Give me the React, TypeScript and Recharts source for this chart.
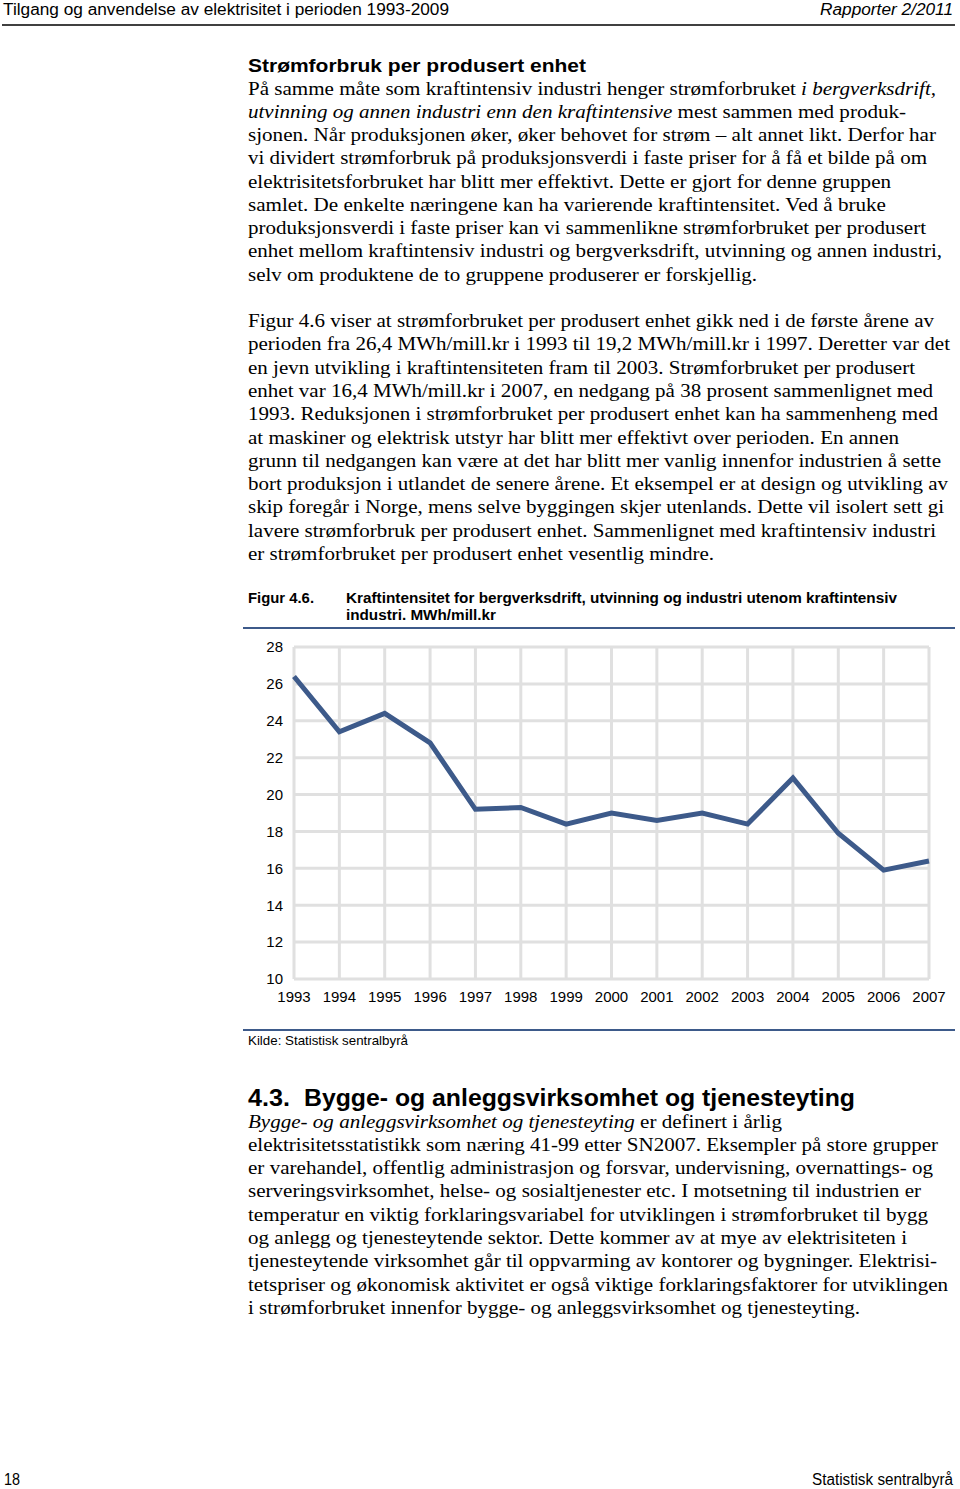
import React from 'react';
import { LineChart, Line, XAxis, YAxis, CartesianGrid } from 'recharts';

// ---- Chart data ----
const years = ['1993', '1994', '1995', '1996', '1997', '1998', '1999', '2000', '2001', '2002', '2003', '2004', '2005', '2006', '2007'];
const intensity = [26.4, 23.4, 24.4, 22.8, 19.2, 19.3, 18.4, 19.0, 18.6, 19.0, 18.4, 20.9, 17.9, 15.9, 16.4];
const yTicks = [10, 12, 14, 16, 18, 20, 22, 24, 26, 28];

const chartData = years.map((y, i) => ({ year: y, value: intensity[i] }));

// ---- Page text ----
type Seg = { t: string; i?: boolean };
type TL = { segs: Seg[]; end: number };

const para1: TL[] = [
  { segs: [{ t: 'På samme måte som kraftintensiv industri henger strømforbruket ' }, { t: 'i bergverksdrift,', i: true }], end: 936 },
  { segs: [{ t: 'utvinning og annen industri enn den kraftintensive', i: true }, { t: ' mest sammen med produk-' }], end: 906 },
  { segs: [{ t: 'sjonen. Når produksjonen øker, øker behovet for strøm – alt annet likt. Derfor har' }], end: 936 },
  { segs: [{ t: 'vi dividert strømforbruk på produksjonsverdi i faste priser for å få et bilde på om' }], end: 927 },
  { segs: [{ t: 'elektrisitetsforbruket har blitt mer effektivt. Dette er gjort for denne gruppen' }], end: 891 },
  { segs: [{ t: 'samlet. De enkelte næringene kan ha varierende kraftintensitet. Ved å bruke' }], end: 886 },
  { segs: [{ t: 'produksjonsverdi i faste priser kan vi sammenlikne strømforbruket per produsert' }], end: 926 },
  { segs: [{ t: 'enhet mellom kraftintensiv industri og bergverksdrift, utvinning og annen industri,' }], end: 942 },
  { segs: [{ t: 'selv om produktene de to gruppene produserer er forskjellig.' }], end: 757 },
];

const para2: TL[] = [
  { segs: [{ t: 'Figur 4.6 viser at strømforbruket per produsert enhet gikk ned i de første årene av' }], end: 934 },
  { segs: [{ t: 'perioden fra 26,4 MWh/mill.kr i 1993 til 19,2 MWh/mill.kr i 1997. Deretter var det' }], end: 950 },
  { segs: [{ t: 'en jevn utvikling i kraftintensiteten fram til 2003. Strømforbruket per produsert' }], end: 915 },
  { segs: [{ t: 'enhet var 16,4 MWh/mill.kr i 2007, en nedgang på 38 prosent sammenlignet med' }], end: 933 },
  { segs: [{ t: '1993. Reduksjonen i strømforbruket per produsert enhet kan ha sammenheng med' }], end: 938 },
  { segs: [{ t: 'at maskiner og elektrisk utstyr har blitt mer effektivt over perioden. En annen' }], end: 899 },
  { segs: [{ t: 'grunn til nedgangen kan være at det har blitt mer vanlig innenfor industrien å sette' }], end: 941 },
  { segs: [{ t: 'bort produksjon i utlandet de senere årene. Et eksempel er at design og utvikling av' }], end: 948 },
  { segs: [{ t: 'skip foregår i Norge, mens selve byggingen skjer utenlands. Dette vil isolert sett gi' }], end: 944 },
  { segs: [{ t: 'lavere strømforbruk per produsert enhet. Sammenlignet med kraftintensiv industri' }], end: 936 },
  { segs: [{ t: 'er strømforbruket per produsert enhet vesentlig mindre.' }], end: 714 },
];

const para3: TL[] = [
  { segs: [{ t: 'Bygge- og anleggsvirksomhet og tjenesteyting', i: true }, { t: ' er definert i årlig' }], end: 782 },
  { segs: [{ t: 'elektrisitetsstatistikk som næring 41-99 etter SN2007. Eksempler på store grupper' }], end: 938 },
  { segs: [{ t: 'er varehandel, offentlig administrasjon og forsvar, undervisning, overnattings- og' }], end: 933 },
  { segs: [{ t: 'serveringsvirksomhet, helse- og sosialtjenester etc. I motsetning til industrien er' }], end: 921 },
  { segs: [{ t: 'temperatur en viktig forklaringsvariabel for utviklingen i strømforbruket til bygg' }], end: 928 },
  { segs: [{ t: 'og anlegg og tjenesteytende sektor. Dette kommer av at mye av elektrisiteten i' }], end: 907 },
  { segs: [{ t: 'tjenesteytende virksomhet går til oppvarming av kontorer og bygninger. Elektrisi-' }], end: 937 },
  { segs: [{ t: 'tetspriser og økonomisk aktivitet er også viktige forklaringsfaktorer for utviklingen' }], end: 948 },
  { segs: [{ t: 'i strømforbruket innenfor bygge- og anleggsvirksomhet og tjenesteyting.' }], end: 860 },
];

const SERIF = '"Liberation Serif", "Times New Roman", serif';
const SANS = '"Liberation Sans", Arial, sans-serif';
const BLUE = '#3d5a8a';

function Txt(props: { x: number; y: number; end: number; size: number; family: string; weight?: string; italic?: boolean; children: React.ReactNode }) {
  const { x, y, end, size, family, weight, italic, children } = props;
  return (
    <text
      x={x}
      y={y}
      fontSize={size}
      fontFamily={family}
      fontWeight={weight || 'normal'}
      fontStyle={italic ? 'italic' : 'normal'}
      fill="#000"
      textLength={end - x}
      lengthAdjust="spacingAndGlyphs"
    >
      {children}
    </text>
  );
}

function Para({ lines, top, pitch }: { lines: TL[]; top: number; pitch: number }) {
  return (
    <g>
      {lines.map((l, k) => (
        <Txt key={k} x={248} y={top + k * pitch} end={l.end} size={19} family={SERIF}>
          {l.segs.map((s, j) => (
            <tspan key={j} fontStyle={s.i ? 'italic' : 'normal'}>{s.t}</tspan>
          ))}
        </Txt>
      ))}
    </g>
  );
}

export default function App() {
  return (
    <div style={{ position: 'absolute', left: 0, top: 0, width: 960, height: 1489, background: '#fff', overflow: 'hidden' }}>
      <svg width={960} height={1489} style={{ position: 'absolute', left: 0, top: 0 }}>
        {/* Header */}
        <Txt x={3} y={15} end={449} size={16} family={SANS}>Tilgang og anvendelse av elektrisitet i perioden 1993-2009</Txt>
        <Txt x={820} y={15} end={953} size={16} family={SANS} italic>Rapporter 2/2011</Txt>
        <line x1={2} x2={955} y1={25} y2={25} stroke="#000" strokeWidth={1.5} />

        {/* Section heading */}
        <Txt x={248} y={72} end={586} size={19} family={SANS} weight="bold">Strømforbruk per produsert enhet</Txt>
        <Para lines={para1} top={94.5} pitch={23.25} />
        <Para lines={para2} top={327} pitch={23.3} />

        {/* Figure title */}
        <Txt x={248} y={603} end={314} size={14} family={SANS} weight="bold">Figur 4.6.</Txt>
        <Txt x={346} y={603} end={897} size={14} family={SANS} weight="bold">Kraftintensitet for bergverksdrift, utvinning og industri utenom kraftintensiv</Txt>
        <Txt x={346} y={620} end={496} size={14} family={SANS} weight="bold">industri. MWh/mill.kr</Txt>
        <line x1={243} x2={955} y1={628} y2={628} stroke={BLUE} strokeWidth={2} />

        {/* Source */}
        <line x1={243} x2={955} y1={1030} y2={1030} stroke={BLUE} strokeWidth={2} />
        <Txt x={248} y={1045} end={408} size={13} family={SANS}>Kilde: Statistisk sentralbyrå</Txt>

        {/* 4.3 heading */}
        <Txt x={248} y={1106} end={290} size={24} family={SANS} weight="bold">4.3.</Txt>
        <Txt x={304} y={1106} end={855} size={24} family={SANS} weight="bold">Bygge- og anleggsvirksomhet og tjenesteyting</Txt>
        <Para lines={para3} top={1127.5} pitch={23.3} />

        {/* Footer */}
        <Txt x={4} y={1485} end={20} size={16} family={SANS}>18</Txt>
        <Txt x={812} y={1485} end={953} size={16} family={SANS}>Statistisk sentralbyrå</Txt>
      </svg>

      <div style={{ position: 'absolute', left: 240, top: 630, width: 720, height: 390 }}>
        <LineChart width={720} height={390} data={chartData} margin={{ top: 17, right: 31, bottom: 11, left: 10 }}>
          <CartesianGrid stroke="#e0e0e0" strokeWidth={3} />
          <XAxis
            dataKey="year"
            axisLine={false}
            tickLine={false}
            tickMargin={6}
            height={30}
            interval={0}
            tick={{ fill: '#000', fontSize: 15, fontFamily: SANS }}
          />
          <YAxis
            domain={[10, 28]}
            ticks={yTicks}
            width={44}
            axisLine={false}
            tickLine={false}
            tickMargin={5}
            interval={0}
            tick={{ fill: '#000', fontSize: 15, fontFamily: SANS }}
          />
          <Line
            type="linear"
            dataKey="value"
            stroke={BLUE}
            strokeWidth={5}
            dot={false}
            activeDot={false}
            isAnimationActive={false}
          />
        </LineChart>
      </div>
    </div>
  );
}
